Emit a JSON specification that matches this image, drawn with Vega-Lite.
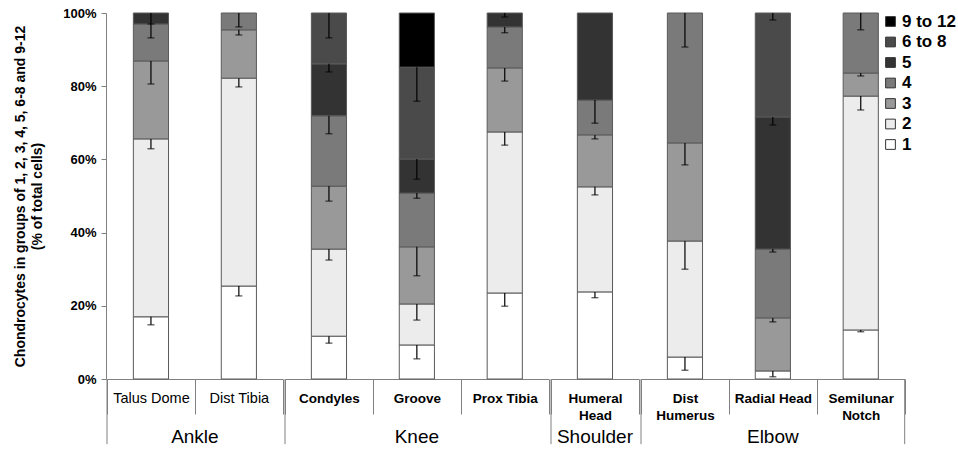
{
  "$schema": "https://vega.github.io/schema/vega-lite/v6.json",
  "padding": {"left": 13, "top": 7, "right": 0, "bottom": 0},
  "background": "white",
  "config": {
    "font": "Liberation Sans",
    "view": {"stroke": null},
    "axis": {"grid": false}
  },
  "data": {
    "values": [
      {"s": "Talus Dome", "j": "Ankle", "c": "1", "r": 1, "p": 17.0, "e": 2.2},
      {"s": "Talus Dome", "j": "Ankle", "c": "2", "r": 2, "p": 48.6, "e": 2.7},
      {"s": "Talus Dome", "j": "Ankle", "c": "3", "r": 3, "p": 21.3, "e": 6.3},
      {"s": "Talus Dome", "j": "Ankle", "c": "4", "r": 4, "p": 10.1, "e": 3.8},
      {"s": "Talus Dome", "j": "Ankle", "c": "5", "r": 5, "p": 3.0, "e": 3.0},
      {"s": "Dist Tibia", "j": "Ankle", "c": "1", "r": 1, "p": 25.4, "e": 2.7},
      {"s": "Dist Tibia", "j": "Ankle", "c": "2", "r": 2, "p": 56.8, "e": 2.4},
      {"s": "Dist Tibia", "j": "Ankle", "c": "3", "r": 3, "p": 13.2, "e": 1.4},
      {"s": "Dist Tibia", "j": "Ankle", "c": "4", "r": 4, "p": 4.6, "e": 3.8},
      {"s": "Condyles", "j": "Knee", "c": "1", "r": 1, "p": 11.7, "e": 1.9},
      {"s": "Condyles", "j": "Knee", "c": "2", "r": 2, "p": 23.8, "e": 3.0},
      {"s": "Condyles", "j": "Knee", "c": "3", "r": 3, "p": 17.2, "e": 4.1},
      {"s": "Condyles", "j": "Knee", "c": "4", "r": 4, "p": 19.2, "e": 4.9},
      {"s": "Condyles", "j": "Knee", "c": "5", "r": 5, "p": 14.2, "e": 2.2},
      {"s": "Condyles", "j": "Knee", "c": "6 to 8", "r": 6, "p": 13.9, "e": 6.8},
      {"s": "Groove", "j": "Knee", "c": "1", "r": 1, "p": 9.3, "e": 3.8},
      {"s": "Groove", "j": "Knee", "c": "2", "r": 2, "p": 11.2, "e": 4.4},
      {"s": "Groove", "j": "Knee", "c": "3", "r": 3, "p": 15.6, "e": 7.9},
      {"s": "Groove", "j": "Knee", "c": "4", "r": 4, "p": 14.7, "e": 1.4},
      {"s": "Groove", "j": "Knee", "c": "5", "r": 5, "p": 9.3, "e": 5.5},
      {"s": "Groove", "j": "Knee", "c": "6 to 8", "r": 6, "p": 25.1, "e": 9.3},
      {"s": "Groove", "j": "Knee", "c": "9 to 12", "r": 7, "p": 14.8, "e": 0},
      {"s": "Prox  Tibia", "j": "Knee", "c": "1", "r": 1, "p": 23.5, "e": 3.6},
      {"s": "Prox  Tibia", "j": "Knee", "c": "2", "r": 2, "p": 44.0, "e": 3.6},
      {"s": "Prox  Tibia", "j": "Knee", "c": "3", "r": 3, "p": 17.5, "e": 3.6},
      {"s": "Prox  Tibia", "j": "Knee", "c": "4", "r": 4, "p": 11.2, "e": 1.6},
      {"s": "Prox  Tibia", "j": "Knee", "c": "5", "r": 5, "p": 3.8, "e": 1.1},
      {"s": "Humeral Head", "j": "Shoulder", "c": "1", "r": 1, "p": 23.8, "e": 1.6},
      {"s": "Humeral Head", "j": "Shoulder", "c": "2", "r": 2, "p": 28.7, "e": 2.2},
      {"s": "Humeral Head", "j": "Shoulder", "c": "3", "r": 3, "p": 14.2, "e": 1.1},
      {"s": "Humeral Head", "j": "Shoulder", "c": "4", "r": 4, "p": 9.5, "e": 6.3},
      {"s": "Humeral Head", "j": "Shoulder", "c": "5", "r": 5, "p": 23.8, "e": 0},
      {"s": "Dist Humerus", "j": "Elbow", "c": "1", "r": 1, "p": 6.0, "e": 3.6},
      {"s": "Dist Humerus", "j": "Elbow", "c": "2", "r": 2, "p": 31.7, "e": 7.7},
      {"s": "Dist Humerus", "j": "Elbow", "c": "3", "r": 3, "p": 26.8, "e": 6.0},
      {"s": "Dist Humerus", "j": "Elbow", "c": "4", "r": 4, "p": 35.5, "e": 9.3},
      {"s": "Radial Head", "j": "Elbow", "c": "1", "r": 1, "p": 2.2, "e": 1.6},
      {"s": "Radial Head", "j": "Elbow", "c": "3", "r": 3, "p": 14.5, "e": 1.1},
      {"s": "Radial Head", "j": "Elbow", "c": "4", "r": 4, "p": 18.8, "e": 0.8},
      {"s": "Radial Head", "j": "Elbow", "c": "5", "r": 5, "p": 36.1, "e": 2.2},
      {"s": "Radial Head", "j": "Elbow", "c": "6 to 8", "r": 6, "p": 28.4, "e": 1.9},
      {"s": "Semilunar Notch", "j": "Elbow", "c": "1", "r": 1, "p": 13.4, "e": 0.5},
      {"s": "Semilunar Notch", "j": "Elbow", "c": "2", "r": 2, "p": 63.9, "e": 3.8},
      {"s": "Semilunar Notch", "j": "Elbow", "c": "3", "r": 3, "p": 6.3, "e": 0.8},
      {"s": "Semilunar Notch", "j": "Elbow", "c": "4", "r": 4, "p": 16.4, "e": 4.6}
    ]
  },
  "facet": {
    "column": {
      "field": "j",
      "type": "nominal",
      "sort": ["Ankle", "Knee", "Shoulder", "Elbow"],
      "title": null,
      "header": {
        "labelOrient": "bottom",
        "labelFontSize": 19,
        "labelFont": "Liberation Sans",
        "labelColor": "#000000",
        "labelPadding": -17
      }
    }
  },
  "spacing": 0,
  "resolve": {"scale": {"x": "independent"}},
  "spec": {
    "width": {"step": 87.9},
    "height": 366,
    "transform": [
      {"stack": "p", "groupby": ["s"], "sort": [{"field": "r", "order": "ascending"}], "as": ["lo", "hi"]},
      {"calculate": "datum.hi - datum.e", "as": "eb"}
    ],
    "encoding": {
      "x": {
        "field": "s",
        "type": "nominal",
        "sort": ["Talus Dome", "Dist Tibia", "Condyles", "Groove", "Prox  Tibia", "Humeral Head", "Dist Humerus", "Radial Head", "Semilunar Notch"],
        "scale": {"paddingInner": 0, "paddingOuter": 0},
        "axis": {
          "title": null,
          "labelAngle": 0,
          "domainColor": "#808080",
          "tickColor": "#808080",
          "tickSize": 35,
          "tickBand": "extent",
          "labelBaseline": "top",
          "labelPadding": -23,
          "labelLineHeight": 17,
          "labelColor": "#000000",
          "labelOverlap": false,
          "labelLimit": 0,
          "labelFontSize": {"condition": {"test": "datum.value == 'Talus Dome' || datum.value == 'Dist Tibia'", "value": 14.5}, "value": 13.5},
          "labelFontWeight": {"condition": {"test": "datum.value == 'Talus Dome' || datum.value == 'Dist Tibia'", "value": "normal"}, "value": "bold"},
          "labelExpr": "datum.value == 'Humeral Head' || datum.value == 'Dist Humerus' || datum.value == 'Semilunar Notch' ? split(datum.value, ' ') : datum.value"
        }
      }
    },
    "layer": [
      {
        "mark": {"type": "bar", "width": {"band": 0.4}, "stroke": "#5a5a5a", "strokeWidth": 1},
        "encoding": {
          "y": {
            "field": "lo",
            "type": "quantitative",
            "scale": {"domain": [0, 100], "nice": false},
            "axis": {
              "values": [0, 20, 40, 60, 80, 100],
              "labelExpr": "datum.value + '%'",
              "labelFontSize": 13,
              "labelFontWeight": "bold",
              "labelColor": "#000000",
              "labelPadding": 5,
              "tickSize": 5,
              "tickColor": "#808080",
              "domainColor": "#808080",
              "title": ["Chondrocytes in groups of 1, 2, 3, 4, 5, 6-8 and 9-12", "(% of total cells)"],
              "titleFontSize": 14,
              "titleFontWeight": "bold",
              "titleColor": "#000000",
              "titleLineHeight": 17,
              "titlePadding": 18
            }
          },
          "y2": {"field": "hi"},
          "fill": {
            "field": "c",
            "type": "nominal",
            "scale": {
              "domain": ["9 to 12", "6 to 8", "5", "4", "3", "2", "1"],
              "range": ["#000000", "#4a4a4a", "#333333", "#7a7a7a", "#999999", "#ececec", "#ffffff"]
            },
            "legend": {
              "title": null,
              "orient": "right",
              "offset": -24,
              "symbolType": "square",
              "symbolSize": 95,
              "symbolStrokeColor": "#333333",
              "symbolStrokeWidth": 1,
              "labelFontSize": 17,
              "labelFontWeight": "bold",
              "labelColor": "#000000",
              "labelOffset": 3,
              "rowPadding": 2.5
            }
          }
        }
      },
      {
        "transform": [{"filter": "datum.e > 0"}],
        "mark": {"type": "rule", "color": "#000000", "strokeWidth": 1.2},
        "encoding": {
          "y": {"field": "hi", "type": "quantitative"},
          "y2": {"field": "eb"}
        }
      },
      {
        "transform": [{"filter": "datum.e > 0"}],
        "mark": {"type": "tick", "orient": "horizontal", "color": "#000000", "thickness": 1.2, "size": 7},
        "encoding": {
          "y": {"field": "eb", "type": "quantitative"}
        }
      },
      {
        "transform": [{"filter": "datum.r == 1 && indexof(['Talus Dome', 'Condyles', 'Humeral Head', 'Dist Humerus'], datum.s) >= 0"}],
        "mark": {"type": "rule", "color": "#808080", "strokeWidth": 1},
        "encoding": {
          "x": {"field": "s", "type": "nominal", "bandPosition": 0, "sort": ["Talus Dome", "Dist Tibia", "Condyles", "Groove", "Prox  Tibia", "Humeral Head", "Dist Humerus", "Radial Head", "Semilunar Notch"]},
          "y": {"datum": 0, "type": "quantitative"},
          "y2": {"datum": -17.8}
        }
      },
      {
        "transform": [{"filter": "datum.r == 1 && datum.s == 'Semilunar Notch'"}],
        "mark": {"type": "rule", "color": "#808080", "strokeWidth": 1},
        "encoding": {
          "x": {"field": "s", "type": "nominal", "bandPosition": 1, "sort": ["Talus Dome", "Dist Tibia", "Condyles", "Groove", "Prox  Tibia", "Humeral Head", "Dist Humerus", "Radial Head", "Semilunar Notch"]},
          "y": {"datum": 0, "type": "quantitative"},
          "y2": {"datum": -17.8}
        }
      }
    ]
  }
}
